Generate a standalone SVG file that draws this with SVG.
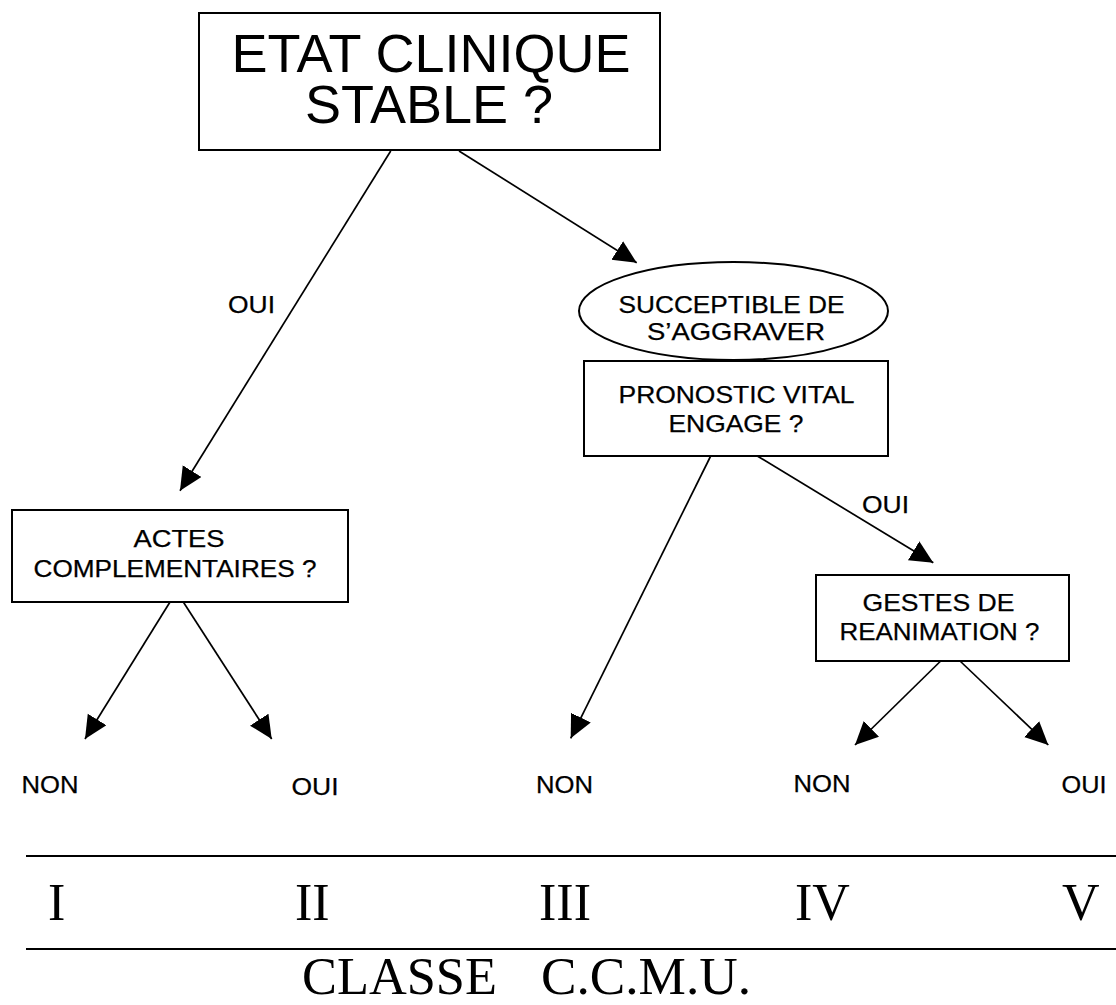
<svg xmlns="http://www.w3.org/2000/svg" width="1116" height="1005" viewBox="0 0 1116 1005">
<style>
.box{fill:#fff;stroke:#000;stroke-width:2}
.lbl{font-family:"Liberation Sans",Arial,sans-serif;font-size:24px;fill:#000;stroke:#000;stroke-width:0.25}
.big{font-family:"Liberation Sans",Arial,sans-serif;font-size:54px;fill:#000}
.rom{font-family:"Liberation Serif","Times New Roman",serif;font-size:52px;fill:#000}
.con{stroke:#000;stroke-width:1.7;fill:none;marker-end:url(#ah)}
.rule{stroke:#000;stroke-width:2}
</style>
<defs>
<marker id="ah" markerUnits="userSpaceOnUse" markerWidth="26" markerHeight="24" refX="23" refY="11" orient="auto" viewBox="0 0 26 24">
<path d="M0,0 L23,11 L0,22 z" fill="#000"/>
</marker>
</defs>
<rect width="1116" height="1005" fill="#fff"/>

<g id="connectors">
<line class="con" x1="390.7" y1="151" x2="180" y2="490.7"/>
<line class="con" x1="459" y1="151" x2="636.7" y2="262.7"/>
<line class="con" x1="170" y1="602" x2="85" y2="739"/>
<line class="con" x1="183.3" y1="602" x2="271.7" y2="739"/>
<line class="con" x1="710.7" y1="456" x2="570.7" y2="738.3"/>
<line class="con" x1="757.3" y1="456" x2="933.3" y2="562.7"/>
<line class="con" x1="940.7" y1="661" x2="855" y2="745"/>
<line class="con" x1="960" y1="661" x2="1048.3" y2="745"/>
</g>

<g id="etat">
<rect class="box" x="199" y="13" width="461" height="137"/>
<text class="big" x="431" y="72" text-anchor="middle">ETAT CLINIQUE</text>
<text class="big" x="429" y="123" text-anchor="middle">STABLE ?</text>
</g>

<g id="succeptible">
<ellipse class="box" cx="733.5" cy="311" rx="154.5" ry="49"/>
<text class="lbl" x="618.5" y="313" textLength="226" lengthAdjust="spacingAndGlyphs">SUCCEPTIBLE DE</text>
<text class="lbl" x="647" y="340" textLength="178" lengthAdjust="spacingAndGlyphs">S’AGGRAVER</text>
</g>

<g id="pronostic">
<rect class="box" x="584" y="361" width="304" height="95"/>
<text class="lbl" x="618.5" y="403" textLength="236" lengthAdjust="spacingAndGlyphs">PRONOSTIC VITAL</text>
<text class="lbl" x="668.5" y="432" textLength="135" lengthAdjust="spacingAndGlyphs">ENGAGE ?</text>
</g>

<g id="actes">
<rect class="box" x="12" y="510" width="336" height="92"/>
<text class="lbl" x="133.5" y="547" textLength="91" lengthAdjust="spacingAndGlyphs">ACTES</text>
<text class="lbl" x="33.5" y="577" textLength="283" lengthAdjust="spacingAndGlyphs">COMPLEMENTAIRES ?</text>
</g>

<g id="gestes">
<rect class="box" x="816" y="575" width="253" height="86"/>
<text class="lbl" x="862.5" y="611" textLength="152" lengthAdjust="spacingAndGlyphs">GESTES DE</text>
<text class="lbl" x="839.5" y="640" textLength="200" lengthAdjust="spacingAndGlyphs">REANIMATION ?</text>
</g>

<g id="labels">
<text class="lbl" x="228" y="313" textLength="47" lengthAdjust="spacingAndGlyphs">OUI</text>
<text class="lbl" x="862" y="513" textLength="47" lengthAdjust="spacingAndGlyphs">OUI</text>
<text class="lbl" x="21.5" y="793" textLength="57" lengthAdjust="spacingAndGlyphs">NON</text>
<text class="lbl" x="291.5" y="795" textLength="47" lengthAdjust="spacingAndGlyphs">OUI</text>
<text class="lbl" x="536" y="793" textLength="57" lengthAdjust="spacingAndGlyphs">NON</text>
<text class="lbl" x="793.5" y="792" textLength="57" lengthAdjust="spacingAndGlyphs">NON</text>
<text class="lbl" x="1061.5" y="793" textLength="45" lengthAdjust="spacingAndGlyphs">OUI</text>
</g>

<g id="classes">
<line class="rule" x1="26" y1="856" x2="1116" y2="856"/>
<line class="rule" x1="26" y1="949" x2="1116" y2="949"/>
<text class="rom" x="48" y="920">I</text>
<text class="rom" x="295" y="920">II</text>
<text class="rom" x="539" y="920">III</text>
<text class="rom" x="795" y="920">IV</text>
<text class="rom" x="1062" y="920">V</text>
<text class="rom" x="302" y="994" textLength="195" lengthAdjust="spacingAndGlyphs">CLASSE</text>
<text class="rom" x="541" y="994" textLength="210" lengthAdjust="spacingAndGlyphs">C.C.M.U.</text>
</g>
</svg>
